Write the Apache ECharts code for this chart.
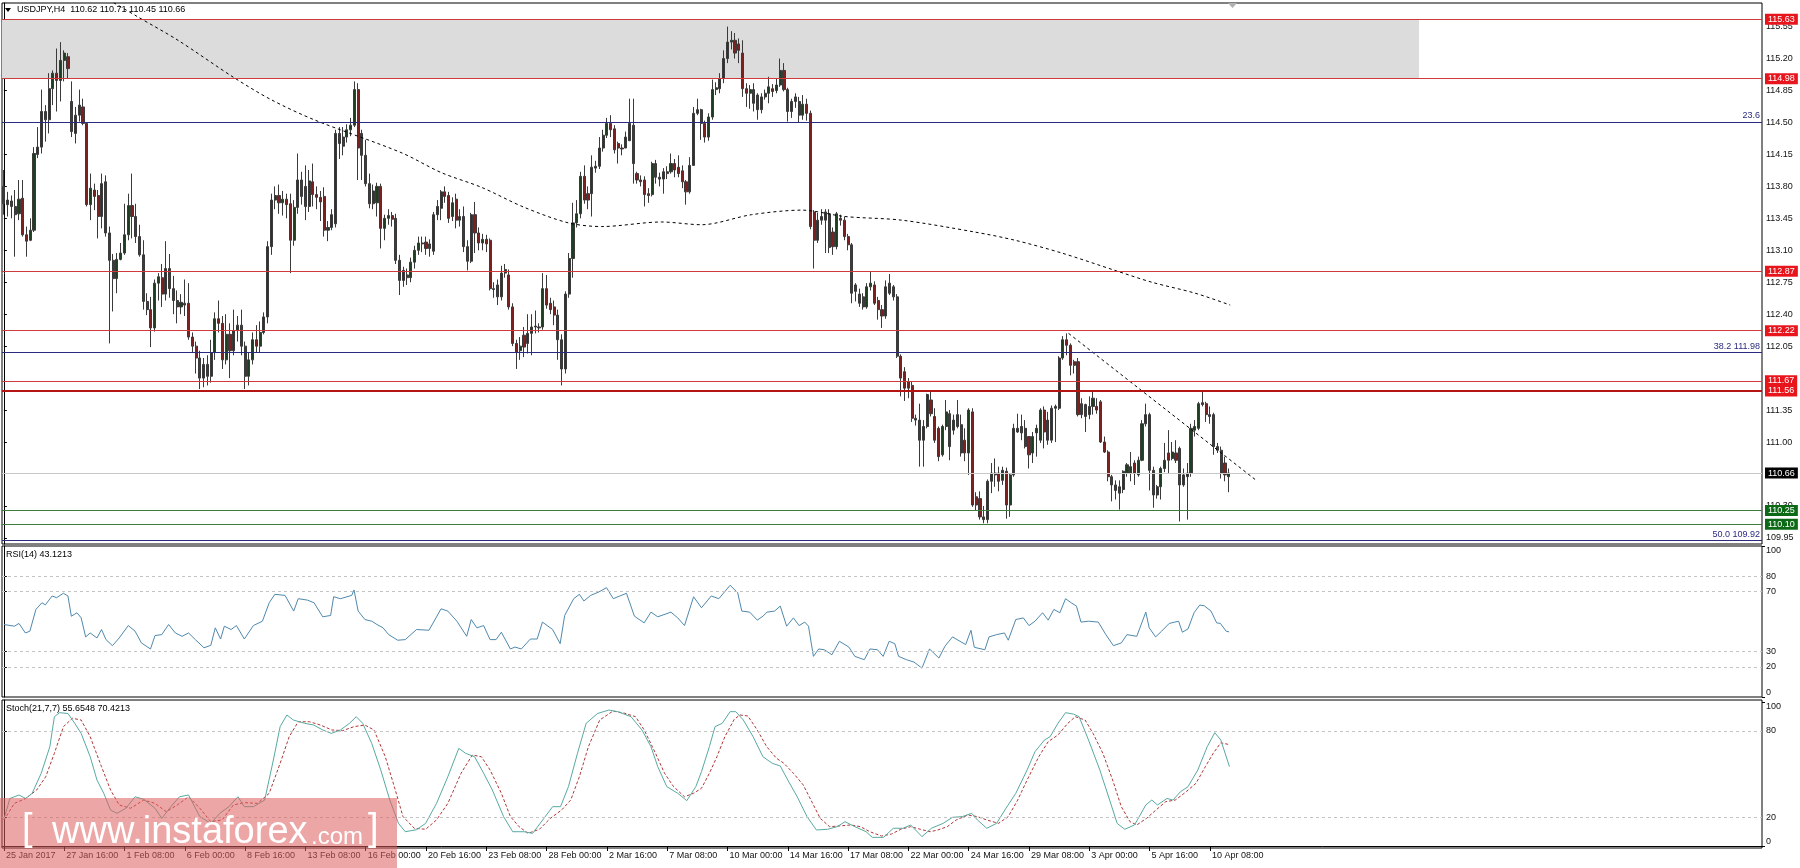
<!DOCTYPE html>
<html><head><meta charset="utf-8">
<script src="https://cdn.jsdelivr.net/npm/echarts@6/dist/echarts.min.js"></script>
<style>html,body{margin:0;padding:0;background:#fff}#c{width:1800px;height:868px}</style>
</head><body><div id="c"></div>
<script>
// ---------- DATA ----------
// H4 candles, one row per bar: [open, close, low, high]
const candles = [
[113.80,113.61,113.49,113.98],[113.60,113.65,113.47,113.74],[113.64,113.58,113.45,113.70],[113.58,113.49,113.03,113.76],
[113.50,113.66,113.43,113.87],[113.67,113.27,113.25,113.87],[113.27,113.20,113.03,113.36],[113.21,113.32,113.20,113.45],
[113.32,114.16,113.30,114.23],[114.15,114.23,114.11,114.45],[114.23,114.62,114.16,114.86],[114.62,114.53,114.29,114.69],
[114.53,114.87,114.38,115.04],[114.87,115.04,114.69,115.07],[115.04,114.96,114.62,115.31],[114.96,115.18,114.73,115.38],
[115.18,115.26,114.95,115.29],[115.22,115.09,114.98,115.26],[114.73,114.40,114.34,114.95],[114.38,114.58,114.27,114.67],
[114.58,114.69,114.51,114.86],[114.67,114.49,114.47,114.76],[114.49,113.60,113.58,114.50],[113.60,113.78,113.43,113.94],
[113.76,113.69,113.54,113.83],[113.70,113.47,113.23,113.76],[113.47,113.83,113.34,113.94],[113.85,113.29,113.25,113.92],
[113.29,112.99,112.08,113.36],[112.99,112.79,112.43,113.06],[112.79,113.00,112.63,113.07],[113.00,113.07,112.99,113.18],
[113.07,113.27,113.05,113.61],[113.27,113.59,113.21,113.72],[113.59,113.47,113.23,113.94],[113.47,113.25,113.18,113.61],
[113.25,113.05,113.03,113.38],[113.05,112.54,112.45,113.21],[112.54,112.45,112.39,112.63],[112.45,112.25,112.04,112.59],
[112.25,112.74,112.21,112.78],[112.74,112.81,112.55,112.85],[112.80,112.62,112.48,112.95],[112.62,112.90,112.55,113.20],
[112.90,112.68,112.58,113.06],[112.68,112.55,112.40,112.82],[112.55,112.48,112.30,112.66],[112.48,112.53,112.40,112.62],
[112.52,112.50,112.38,112.78],[112.52,112.15,112.12,112.74],[112.15,112.05,111.98,112.20],[112.05,111.92,111.75,112.10],
[111.92,111.70,111.58,112.00],[111.70,111.85,111.60,111.92],[111.85,111.72,111.62,111.95],[111.72,111.98,111.65,112.12],
[111.98,112.35,111.90,112.42],[112.35,112.30,112.20,112.55],[112.30,111.90,111.80,112.38],[111.90,112.18,111.85,112.40],
[112.18,112.00,111.70,112.30],[112.00,112.22,111.95,112.45],[112.22,112.28,112.10,112.38],[112.28,112.05,111.95,112.45],
[112.05,111.72,111.58,112.10],[111.72,111.90,111.62,111.98],[111.90,112.12,111.85,112.20],[112.12,112.05,111.98,112.28],
[112.05,112.20,111.98,112.32],[112.20,112.37,112.18,112.42],[112.37,113.14,112.30,113.20],[113.14,113.65,113.05,113.72],
[113.65,113.70,113.55,113.80],[113.70,113.62,113.50,113.82],[113.62,113.66,113.48,113.75],[113.66,113.60,113.45,113.72],
[113.61,113.21,112.85,113.72],[113.21,113.57,113.15,113.65],[113.57,113.87,113.50,114.16],[113.87,113.69,113.60,113.96],
[113.80,113.58,113.43,114.03],[113.58,113.86,113.52,113.98],[113.85,113.71,113.58,114.05],[113.71,113.68,113.55,113.80],
[113.68,113.63,113.42,113.75],[113.69,113.32,113.25,113.79],[113.32,113.35,113.20,113.42],[113.35,113.49,113.32,113.55],
[113.39,114.38,113.35,114.42],[114.38,114.27,114.10,114.45],[114.34,114.24,114.14,114.45],[114.34,114.42,114.28,114.48],
[114.42,114.47,114.35,114.55],[114.47,114.86,114.45,114.95],[114.86,114.22,113.87,114.93],[114.38,114.14,113.87,114.42],
[114.14,113.83,113.80,114.31],[113.83,113.61,113.56,113.94],[113.61,113.75,113.55,113.82],[113.62,113.80,113.47,113.84],
[113.80,113.34,113.12,113.83],[113.34,113.45,113.21,113.49],[113.45,113.48,113.38,113.55],[113.48,113.44,113.36,113.52],
[113.45,112.99,112.95,113.50],[112.99,112.77,112.61,113.05],[112.77,112.88,112.70,112.92],[112.83,112.80,112.72,112.90],
[112.80,112.97,112.75,113.02],[112.97,113.10,112.90,113.15],[113.10,113.18,113.05,113.25],[113.18,113.17,113.08,113.25],
[113.19,113.12,113.05,113.25],[113.17,113.12,113.03,113.22],[113.09,113.49,113.05,113.52],[113.49,113.58,113.43,113.65],
[113.56,113.74,113.43,113.76],[113.74,113.69,113.62,113.80],[113.70,113.45,113.40,113.74],[113.47,113.62,113.42,113.68],
[113.66,113.43,113.34,113.72],[113.43,113.47,113.36,113.55],[113.47,113.14,113.08,113.58],[113.14,112.98,112.88,113.21],
[112.98,113.49,112.96,113.51],[113.49,113.29,113.07,113.63],[113.29,113.18,113.10,113.35],[113.18,113.22,113.10,113.28],
[113.22,113.17,113.08,113.27],[113.21,112.68,112.66,113.23],[112.68,112.67,112.58,112.75],[112.72,112.59,112.50,112.78],
[112.59,112.85,112.55,112.93],[112.85,112.89,112.80,112.95],[112.83,112.48,112.45,112.89],[112.48,112.08,112.05,112.52],
[112.08,111.98,111.80,112.12],[112.00,112.05,111.90,112.15],[112.17,112.04,111.93,112.26],[112.08,112.19,111.97,112.40],
[112.19,112.26,111.95,112.40],[112.26,112.27,112.19,112.44],[112.26,112.25,112.20,112.30],[112.26,112.68,112.23,112.85],
[112.68,112.50,112.46,112.83],[112.52,112.45,112.40,112.58],[112.48,112.39,112.28,112.55],[112.39,112.12,111.90,112.45],
[112.12,111.80,111.62,112.18],[111.80,112.62,111.75,112.65],[112.62,113.01,112.58,113.07],[113.01,113.40,112.80,113.62],
[113.40,113.50,113.35,113.65],[113.50,113.91,113.45,113.96],[113.91,113.65,113.61,114.03],[113.72,113.65,113.55,113.80],
[113.72,114.01,113.47,114.14],[114.00,114.02,113.95,114.08],[114.02,114.22,113.99,114.34],[114.22,114.36,114.18,114.42],
[114.36,114.49,114.33,114.55],[114.49,114.42,114.34,114.58],[114.43,114.20,114.16,114.47],[114.27,114.22,114.05,114.29],
[114.22,114.21,114.14,114.26],[114.22,114.34,114.22,114.40],[114.30,114.49,114.30,114.76],[114.47,114.05,113.83,114.76],
[113.94,113.87,113.83,113.96],[113.87,113.85,113.80,113.92],[113.87,113.71,113.58,113.91],[113.72,113.70,113.62,113.78],
[113.71,114.05,113.69,114.07],[114.05,113.90,113.83,114.09],[113.90,113.88,113.80,113.95],[113.88,113.96,113.72,114.00],
[113.94,113.96,113.88,114.02],[113.96,114.05,113.94,114.16],[114.05,113.98,113.90,114.10],[114.01,113.94,113.90,114.14],
[113.97,113.85,113.78,114.03],[113.85,113.74,113.60,113.87],[113.74,114.03,113.72,114.12],[114.03,114.60,114.03,114.67],
[114.60,114.64,114.58,114.76],[114.64,114.49,114.31,114.65],[114.49,114.34,114.28,114.52],[114.34,114.56,114.30,114.60],
[114.56,114.86,114.53,114.97],[114.86,114.88,114.80,114.94],[114.87,114.98,114.82,115.04],[114.98,115.20,114.93,115.29],
[115.20,115.38,115.15,115.55],[115.38,115.40,115.30,115.50],[115.40,115.26,115.20,115.48],[115.36,115.29,115.15,115.42],
[115.26,114.87,114.78,115.40],[114.87,114.82,114.67,114.93],[114.82,114.86,114.65,114.91],[114.86,114.71,114.62,114.93],
[114.80,114.64,114.53,114.82],[114.64,114.78,114.60,114.82],[114.78,114.82,114.75,114.86],[114.82,114.89,114.71,115.00],
[114.87,114.84,114.78,114.92],[114.85,114.91,114.82,114.98],[114.91,115.07,114.89,115.20],[115.07,114.86,114.84,115.15],
[114.86,114.62,114.51,114.88],[114.62,114.73,114.55,114.76],[114.78,114.73,114.66,114.82],[114.73,114.58,114.50,114.78],
[114.58,114.70,114.53,114.80],[114.70,114.60,114.52,114.76],[114.60,113.36,113.33,114.63],[113.52,113.21,112.90,113.54],
[113.21,113.43,113.18,113.51],[113.43,113.47,113.38,113.55],[113.43,113.52,113.07,113.55],[113.50,113.13,113.07,113.55],
[113.30,113.14,113.05,113.35],[113.14,113.50,113.11,113.52],[113.45,113.43,113.37,113.49],[113.43,113.25,113.21,113.47],
[113.25,113.16,113.10,113.28],[113.16,112.63,112.52,113.18],[112.72,112.65,112.54,112.74],[112.62,112.52,112.48,112.68],
[112.59,112.48,112.45,112.63],[112.48,112.70,112.46,112.74],[112.70,112.74,112.66,112.87],[112.72,112.52,112.50,112.76],
[112.55,112.45,112.34,112.59],[112.45,112.38,112.25,112.50],[112.38,112.70,112.35,112.77],[112.74,112.63,112.61,112.84],
[112.70,112.59,112.55,112.72],[112.59,111.94,111.92,112.62],[111.94,111.70,111.50,111.96],[111.77,111.59,111.45,111.82],
[111.66,111.59,111.48,111.70],[111.62,111.26,111.22,111.66],[111.26,111.24,111.18,111.30],[111.24,111.02,110.73,111.42],
[111.02,111.17,110.73,111.24],[111.17,111.52,111.15,111.53],[111.46,111.31,111.28,111.55],[111.28,111.02,110.99,111.37],
[111.15,110.84,110.79,111.17],[110.86,111.17,110.84,111.19],[111.17,111.33,111.13,111.46],[111.31,110.95,110.80,111.35],
[111.13,111.24,111.08,111.30],[111.30,111.17,111.15,111.46],[111.19,110.88,110.84,111.30],[111.02,110.88,110.79,111.15],
[110.88,111.35,110.64,111.37],[111.33,110.31,110.29,111.37],[110.40,110.31,110.25,110.45],[110.38,110.18,110.15,110.46],
[110.18,110.15,110.11,110.30],[110.15,110.57,110.11,110.59],[110.57,110.66,110.44,110.77],[110.66,110.64,110.51,110.82],
[110.66,110.57,110.46,110.73],[110.58,110.69,110.53,110.73],[110.68,110.31,110.16,110.72],[110.31,110.64,110.18,110.66],
[110.64,111.15,110.62,111.20],[111.15,111.11,111.10,111.31],[111.17,111.10,111.02,111.30],[111.15,110.95,110.93,111.24],
[111.06,110.86,110.71,111.06],[110.88,111.06,110.77,111.11],[111.10,111.15,110.84,111.19],[111.02,111.35,110.99,111.37],
[111.35,111.11,110.93,111.39],[111.24,111.02,110.97,111.33],[111.02,111.37,110.99,111.40],[111.37,111.39,111.00,111.41],
[111.37,111.92,111.35,111.94],[111.92,112.12,111.90,112.16],[112.12,112.06,111.95,112.19],[112.06,111.84,111.73,112.08],
[111.88,111.84,111.75,111.90],[111.88,111.30,111.28,111.92],[111.42,111.30,111.26,111.48],[111.41,111.28,111.11,111.42],
[111.30,111.39,111.25,111.50],[111.39,111.48,111.30,111.57],[111.39,111.35,111.31,111.48],[111.44,111.00,110.99,111.46],
[111.00,110.89,110.88,111.06],[110.89,110.62,110.57,110.91],[110.62,110.53,110.35,110.64],[110.53,110.47,110.37,110.58],
[110.51,110.44,110.26,110.58],[110.48,110.68,110.44,110.69],[110.66,110.75,110.62,110.77],[110.66,110.73,110.57,110.89],
[110.77,110.66,110.53,110.80],[110.64,110.80,110.62,110.84],[110.80,111.20,110.79,111.24],[111.20,111.30,111.17,111.42],
[111.30,110.69,110.47,111.32],[110.69,110.42,110.28,110.73],[110.42,110.51,110.38,110.53],[110.51,110.71,110.37,110.73],
[110.71,110.80,110.67,110.99],[110.88,110.80,110.66,111.13],[110.82,110.89,110.80,111.00],[110.88,110.80,110.77,111.02],
[110.93,110.53,110.13,110.95],[110.53,110.64,110.51,110.71],[110.62,110.66,110.15,110.77],[110.66,111.15,110.62,111.20],
[111.13,111.17,111.06,111.24],[111.15,111.42,111.13,111.44],[111.43,111.41,111.39,111.57],[111.42,111.30,111.22,111.44],
[111.30,111.28,111.20,111.39],[111.30,110.95,110.86,111.32],[110.95,110.91,110.88,110.99],[110.91,110.66,110.60,110.95],
[110.77,110.64,110.57,110.84],[110.62,110.66,110.45,110.71]
];
// dashed moving average: [bar, price]
const maLine = [[25,115.91],[29.2,115.81],[35.6,115.655],[46.2,115.40],[61.1,114.99],[70.9,114.75],[82.3,114.53],
[105.4,114.17],[116.1,113.95],[126.7,113.79],[138.1,113.57],[149.8,113.40],[158.6,113.36],[174.5,113.41],[185.1,113.38],
[198.4,113.49],[211.7,113.54],[223.1,113.47],[238.2,113.43],[257.6,113.30],[268.3,113.21],[280.7,113.07],[294.8,112.88],
[304.6,112.75],[316.1,112.63],[325.4,112.50]];
const trendLine = [[282.5,112.19],[332,110.59]];
// RSI(14): [bar, value]
const rsi = [[0,48],[2.8,46.9],[4,48.7],[5.7,42.4],[6.9,43.6],[8.5,58],[10.1,62.4],[11,61],[12.8,66.9],[14,65.8],[15.8,68.7],
[17,66.9],[17.9,53.5],[19.4,55.8],[20.5,52.4],[21.7,39.8],[22.9,42.4],[24.7,39.1],[25.9,44.7],[27.1,38],[28.8,34],[30.6,39.1],
[33,47.3],[34.8,43.6],[36.5,35.8],[38.9,31.8],[40.1,40.7],[41.9,41.3],[43.7,48],[45.5,42.4],[47.3,40.2],[49,42.4],[50.8,38],
[53.1,32.6],[54.9,34.2],[56.1,45.8],[57.5,38.4],[58.5,46.9],[60.3,44.7],[61.7,47.3],[63.8,38.4],[66.2,47.3],[68.6,50.2],
[70.4,62.4],[71.9,68],[74.6,67.3],[76.9,56.9],[78.1,65.1],[80.5,64.2],[82.3,62.4],[84.6,53.1],[86.7,54],[87.5,66.4],
[89.3,65.1],[92.3,67.3],[92.9,70.9],[94,56.9],[95.8,51.3],[97.6,50.2],[99,48],[100.6,45.8],[102.1,41.3],[104.5,37.6],
[106.5,38],[109.5,44.7],[112.8,44.2],[116,58.4],[117.8,56.9],[120.2,50.2],[122.8,40.2],[124,51.3],[125.5,45.8],[127.3,47.3],
[129,38],[130.6,38],[132,42.9],[134.4,31.8],[135.6,33.1],[137.3,31.8],[139.7,38.4],[141.5,38.4],[142.9,49.6],[145.6,44.7],
[147.6,35.3],[148.8,54],[151.2,65.1],[152.7,68],[153.9,63.6],[155.7,67.3],[157.9,69.6],[159.9,72.4],[161.7,65.1],[165.2,68.7],
[167.3,53.5],[169.9,49.1],[171.7,56.2],[173.5,53.1],[177,56.2],[178.8,52.4],[180.6,47.3],[183,66.4],[185.1,59.1],[187.7,66.9],
[189.7,65.1],[192.7,74],[194.7,69.1],[195.8,56.9],[197.9,56.2],[199.9,50.9],[201.4,53.5],[202.5,56.2],[204.5,56.9],[206,60.2],
[207.7,46.9],[209.5,52.4],[211,47.3],[212.5,49.6],[213.5,46.9],[214.8,26.9],[216.2,31.8],[217.7,31.3],[219.7,28],[221.7,36.9],
[224.2,33.1],[225.8,26.9],[228.3,24.7],[229.8,31.8],[231.8,31.3],[233.3,26.9],[234.9,36.9],[236.4,35.3],[237.4,26.9],
[239.5,24.7],[241.5,23.1],[243.6,19.1],[245.6,31.8],[248.1,25.8],[249.7,33.6],[251.7,39.8],[255.2,34.7],[256.6,44.2],
[257.5,32.9],[260.3,31.3],[261.4,39.8],[263.4,41.3],[265.5,42.4],[266.5,37.6],[268.5,51.3],[270.5,52.4],[272,47.3],
[273.6,50.2],[275.6,55.8],[277.1,50.9],[278.6,58],[280.2,55.8],[281.7,65.1],[283.2,62.4],[284.6,60.2],[285.8,49.6],
[287.8,50.2],[290.4,49.6],[292.4,41.3],[294.4,34],[296.5,35.8],[298,41.3],[300.6,40.2],[303,56.2],[303.9,45.8],[305.6,39.8],
[307.2,43.6],[309.2,48.7],[311.7,50.2],[312.7,42.9],[314.2,45.1],[315.8,55.8],[317.3,60.9],[318.5,60.4],[320.3,56.9],
[321.8,49.1],[322.8,48.7],[324.3,43.6],[325.1,43.1]];
// Stochastic(21,7,7) main line
const stochK = [[0,18.5],[1.6,33],[4,35.4],[5.8,33],[7.5,36.6],[9.9,50.5],[12.2,69],[13.4,89.8],[14.8,92.6],[17,92],[18.8,85.2],
[20.5,78.2],[22.9,62],[24.7,45.8],[26.5,36.6],[28.3,25],[30,22.7],[32.4,26.2],[34.8,34.2],[37.1,32.4],[40.1,26.2],[41.9,19.2],
[44.3,27.3],[46.6,34.2],[49,35.4],[52,20.4],[54.9,15.7],[57.3,22.7],[59.7,27.3],[62.1,34.2],[63.8,27.3],[66.2,27.3],[69.2,31.9],
[71.5,59.7],[73.3,82.9],[75.1,91],[76.8,87.5],[79.8,85.2],[82.2,84],[84.6,80.6],[86.9,78.2],[89.3,80.6],[91.7,85.2],[93.5,89.8],
[95.2,85.2],[97.6,71.3],[100,52.8],[102.4,31.9],[104.7,15.7],[106.5,9.9],[109.5,11.3],[111.9,15.7],[114.8,29.6],[117.8,48.1],
[120.7,67.8],[122.5,64.4],[124.9,62],[127.3,50.5],[129.6,38.9],[132.6,20.4],[135,9.9],[138,9.9],[140.3,8.8],[143.3,19.2],
[145.6,27.3],[147.7,27.3],[149.8,41.2],[152.2,64.4],[154.5,85.2],[157.5,92],[160.5,94.4],[162.9,93.3],[166.4,89.8],[169.3,80.6],
[171.7,69],[173.5,55.1],[175.9,41.2],[178.8,36.6],[181.2,31.5],[183.6,41.2],[185.1,51.6],[187.2,69],[188.7,82.9],[190.6,85.2],
[192.7,93.3],[194.2,93.3],[196.2,87.5],[198.8,75.9],[201.4,62],[203.9,57.4],[206,55.6],[208,45.8],[210.5,34.2],[213.1,20.4],
[215.6,11.1],[218.6,11.6],[221.1,13.4],[223.2,16.9],[225.8,13.4],[228.8,9.9],[230.4,6],[233.4,6],[236,12.3],[238.6,12.3],
[240.6,14.6],[243.6,6.5],[246.1,12.3],[249.2,15.7],[251.7,19.9],[254.3,20.4],[256.8,22.7],[258.3,18.1],[260.8,12.3],
[263.4,15.7],[265.9,26.2],[268.5,36.6],[271.5,52.8],[273.6,65.5],[276.1,73.6],[277.6,75.9],[279.7,85.2],[281.7,92.6],
[283.8,91.6],[285.3,89.8],[287.8,73.6],[290.8,52.8],[293.4,31.9],[295.4,15.7],[297.4,11.6],[300,14.6],[303,28.5],[304.6,31.9],
[306.1,28.5],[308.6,33],[310.2,31.9],[312.2,37.7],[314.2,41.2],[316.8,52.8],[319.3,69],[321.3,78.7],[322.9,73.6],[325.2,55.1]];
// Stochastic signal line
const stochD = [[0,18],[2.8,29.6],[5.8,33],[8.7,38.9],[11.1,48.1],[13.4,64.4],[15.8,82.9],[18.2,88.7],[20.5,87.5],[22.9,75.9],
[25.9,55.1],[28.3,38.9],[30.6,28.5],[33.6,26.2],[37.1,31.9],[40.1,29.6],[43.1,23.8],[46,28.5],[49,34.2],[52,26.2],[54.9,16.9],
[57.9,18.1],[60.9,28.5],[63.8,30.1],[67.3,29.6],[70.4,36.6],[73.3,57.4],[75.7,75.9],[78.1,86.3],[81.1,86.3],[84,84],[87,80.6],
[89.9,80.1],[92.9,82.9],[95.8,84],[98.2,80.6],[101.2,62],[103.6,41.2],[105.9,20.4],[108.9,12.3],[111.9,11.6],[114.8,18.1],
[117.8,29.6],[121.3,50.5],[124.3,63.2],[126.7,62],[129,52.8],[132,36.6],[134.4,20.4],[136.7,13.4],[139.1,8.8],[142.1,11.6],
[145,19.2],[148,25],[150.4,31.9],[152.7,48.1],[155.1,69],[158.1,87.5],[161.6,93.7],[164.6,92.3],[167.6,89.8],[169.9,80.6],
[172.9,64.4],[175.3,50.5],[177.7,41.2],[180.6,34.2],[183,36.6],[185.1,40.1],[187.2,50.5],[189.2,62],[191.3,75.9],[193.8,88],
[195.3,91],[197.4,90.3],[199.9,80.6],[202.4,69],[205,60.9],[207,57.4],[209.5,50.5],[212.1,42.4],[214.6,29.6],[216.6,19.2],
[219.1,13.4],[221.7,13.9],[224.7,14.6],[227.3,13.4],[229.8,9.9],[232.9,6.9],[235.5,8.3],[238,11.6],[240.6,13.4],[243.2,11.6],
[245.8,9.9],[247.8,11.1],[250.3,13.4],[252.7,18.1],[255.8,21.5],[258.3,20.4],[260.8,18.1],[263.9,15.7],[266.5,20.4],[269,31.9],
[271.5,45.8],[274.6,62],[277.1,72.5],[279.7,77.1],[282.3,85.2],[284.3,89.8],[286.9,87.5],[289,78.2],[291.6,64.4],[294.2,45.8],
[296.5,27.3],[298.8,16.9],[300.6,14.6],[303.2,19.2],[305.7,25],[308.3,30.8],[310.8,31.9],[313.2,36.6],[316.3,43.5],[318.8,55.1],
[320.9,64.4],[322.9,71.7],[325.2,70.4]];
// time axis labels (one every 16 H4 bars)
const dateLabels = ['25 Jan 2017','27 Jan 16:00','1 Feb 08:00','6 Feb 00:00','8 Feb 16:00','13 Feb 08:00','16 Feb 00:00',
'20 Feb 16:00','23 Feb 08:00','28 Feb 00:00','2 Mar 16:00','7 Mar 08:00','10 Mar 00:00','14 Mar 16:00','17 Mar 08:00',
'22 Mar 00:00','24 Mar 16:00','29 Mar 08:00','3 Apr 00:00','5 Apr 16:00','10 Apr 08:00'];
const priceTicks = [109.95,110.30,111.00,111.35,112.05,112.40,112.75,113.10,113.45,113.80,114.15,114.50,114.85,115.20,115.55];
const redLevels = [115.63,114.98,112.87,112.22,111.67,111.56];
const greenLevels = [110.25,110.10];
const fibLevels = [114.50,111.98,109.92];
const fibLabels = ['23.6','38.2 111.98','50.0 109.92'];
const lastPrice = 110.66;
const zoneBars = [-0.5,375.5];
const zonePrices = [114.98,115.63];
const rsiLevels = [80,70,30,20];
const stochLevels = [80,20];

// ---------- CHART ----------
const FONT = '"Liberation Sans", Arial, sans-serif';
const N = 467;
const cats = Array.from({length: N}, (_, i) => String(i));
const labelBars = dateLabels.map((_, i) => i * 16);
const chart = echarts.init(document.getElementById('c'), null, {renderer: 'canvas', width: 1800, height: 868});

const boxLabel = (txt, bg) => ({show: true, position: 'end', formatter: txt, backgroundColor: bg, color: '#fff',
  fontFamily: FONT, fontSize: 9, padding: [1, 3, 0, 3], lineHeight: 10, distance: 3});
const levelData = [];
redLevels.forEach(v => levelData.push({yAxis: v,
  lineStyle: {color: v === 111.56 ? '#b51414' : '#cf3b3b', width: v === 111.56 ? 2 : 1.2, type: 'solid'},
  label: boxLabel(v.toFixed(2), '#e8161c')}));
greenLevels.forEach(v => levelData.push({yAxis: v, lineStyle: {color: '#3c7d3c', width: 1, type: 'solid'},
  label: boxLabel(v.toFixed(2), '#0c6a16')}));
fibLevels.forEach((v, i) => levelData.push({yAxis: v, lineStyle: {color: '#2a2a80', width: 1, type: 'solid'},
  label: {show: true, position: 'insideEndTop', formatter: fibLabels[i], color: '#2a2a80', fontFamily: FONT, fontSize: 9, distance: 2}}));
levelData.push({yAxis: lastPrice, lineStyle: {color: '#c8c8c8', width: 1, type: 'solid'}, label: boxLabel(lastPrice.toFixed(2), '#000')});

const dashLevels = lv => ({silent: true, symbol: ['none', 'none'], animation: false,
  lineStyle: {color: '#c4c4c4', type: [3, 3], width: 1}, label: {show: false}, data: lv.map(v => ({yAxis: v}))});

const axisTxt = {color: '#111', fontFamily: FONT, fontSize: 9};
function rightAxis(grid, min, max, vals, va, showLine) {
  return {type: 'value', gridIndex: grid, position: 'right', min: min, max: max,
    axisLine: {show: showLine, lineStyle: {color: '#000', width: 1}},
    axisTick: {show: true, customValues: vals, length: 3, lineStyle: {color: '#000'}},
    axisLabel: Object.assign({customValues: vals, margin: 4, verticalAlign: va,
      formatter: v => (grid === 0 ? v.toFixed(2) : String(v))}, axisTxt),
    splitLine: {show: false}};
}
const gridBase = {left: 2, right: 38, show: true, borderColor: '#000', borderWidth: 1, backgroundColor: '#fff'};

const option = {
  animation: false,
  backgroundColor: '#fff',
  grid: [Object.assign({top: 3, height: 541}, gridBase),
         Object.assign({top: 546, height: 151}, gridBase),
         Object.assign({top: 700, height: 148}, gridBase)],
  xAxis: [
    {type: 'category', gridIndex: 0, data: cats, boundaryGap: true, show: false, position: 'bottom'},
    {type: 'value', gridIndex: 0, min: -0.5, max: N - 0.5, show: false, position: 'bottom'},
    {type: 'value', gridIndex: 1, min: -0.5, max: N - 0.5, show: false, position: 'bottom'},
    {type: 'value', gridIndex: 2, min: -0.5, max: N - 0.5, position: 'bottom',
      axisLine: {show: true, lineStyle: {color: '#000'}},
      axisTick: {show: true, customValues: labelBars, length: 5, lineStyle: {color: '#000'}},
      axisLabel: Object.assign({customValues: labelBars, align: 'left', margin: 3, padding: [0, 0, 0, 2],
        formatter: v => dateLabels[labelBars.indexOf(v)]}, axisTxt),
      splitLine: {show: false}}
  ],
  yAxis: [
    rightAxis(0, 109.883, 115.8085, priceTicks, 'middle', true),
    rightAxis(1, 0, 100, [80, 70, 30, 20], 'middle', true),
    rightAxis(1, 0, 100, [100], 'top', false),
    rightAxis(1, 0, 100, [0], 'bottom', false),
    rightAxis(2, -1.4, 101.4, [80, 20], 'middle', true),
    rightAxis(2, -1.4, 101.4, [100], 'top', false),
    rightAxis(2, -1.4, 101.4, [0], 'bottom', false)
  ],
  series: [
    {type: 'candlestick', xAxisIndex: 0, yAxisIndex: 0, data: candles, barWidth: 2.6, z: 3,
      itemStyle: {color: '#1f3d20', color0: '#7c2020', borderColor: '#3a3a3a', borderColor0: '#3a3a3a', borderWidth: 1}},
    {type: 'line', xAxisIndex: 1, yAxisIndex: 0, data: maLine, symbol: 'none', smooth: 0.3, z: 4,
      lineStyle: {color: '#000', width: 1, type: [3, 3]},
      markArea: {silent: true, z: 1, itemStyle: {color: '#dcdcdc'},
        data: [[{xAxis: zoneBars[0], yAxis: zonePrices[0]}, {xAxis: zoneBars[1], yAxis: zonePrices[1]}]]},
      markLine: {silent: true, symbol: ['none', 'none'], animation: false, precision: 2, data: levelData}},
    {type: 'line', xAxisIndex: 1, yAxisIndex: 0, data: trendLine, symbol: 'none', z: 4,
      lineStyle: {color: '#000', width: 1, type: [3, 3]}},
    {type: 'line', xAxisIndex: 2, yAxisIndex: 1, data: rsi, symbol: 'none', z: 3,
      lineStyle: {color: '#4f89ad', width: 1}, markLine: dashLevels(rsiLevels)},
    {type: 'line', xAxisIndex: 3, yAxisIndex: 4, data: stochK, symbol: 'none', z: 4,
      lineStyle: {color: '#58aaa2', width: 1}, markLine: dashLevels(stochLevels)},
    {type: 'line', xAxisIndex: 3, yAxisIndex: 4, data: stochD, symbol: 'none', z: 3,
      lineStyle: {color: '#b03838', width: 1, type: [3, 2]}}
  ],
  graphic: [
    {type: 'polygon', shape: {points: [[5, 8], [11, 8], [8, 12]]}, style: {fill: '#000'}, z: 50},
    {type: 'text', left: 17, top: 5, z: 50, style: {text: 'USDJPY,H4  110.62 110.71 110.45 110.66', fill: '#000', font: '9px ' + FONT}},
    {type: 'text', left: 6, top: 550, z: 50, style: {text: 'RSI(14) 43.1213', fill: '#000', font: '9px ' + FONT}},
    {type: 'text', left: 6, top: 704, z: 50, style: {text: 'Stoch(21,7,7) 55.6548 70.4213', fill: '#000', font: '9px ' + FONT}},
    {type: 'polygon', shape: {points: [[1228, 3], [1237, 3], [1232.5, 8]]}, style: {fill: '#b0b0b0'}, z: 50},
    {type: 'rect', shape: {x: 0, y: 798, width: 397, height: 70}, style: {fill: 'rgba(222,92,92,0.55)'}, z: 60},
    {type: 'text', x: 22, y: 849, z: 61, style: {text: '[', fill: '#fff', font: '38px ' + FONT, verticalAlign: 'bottom'}},
    {type: 'text', x: 52, y: 852, z: 61, style: {text: 'www.instaforex', fill: '#fff', font: '38px ' + FONT, verticalAlign: 'bottom'}},
    {type: 'text', x: 311, y: 849, z: 61, style: {text: '.com', fill: '#fff', font: '24px ' + FONT, verticalAlign: 'bottom'}},
    {type: 'text', x: 368, y: 849, z: 61, style: {text: ']', fill: '#fff', font: '38px ' + FONT, verticalAlign: 'bottom'}}
  ]
};
chart.setOption(option);
</script>
</body></html>
